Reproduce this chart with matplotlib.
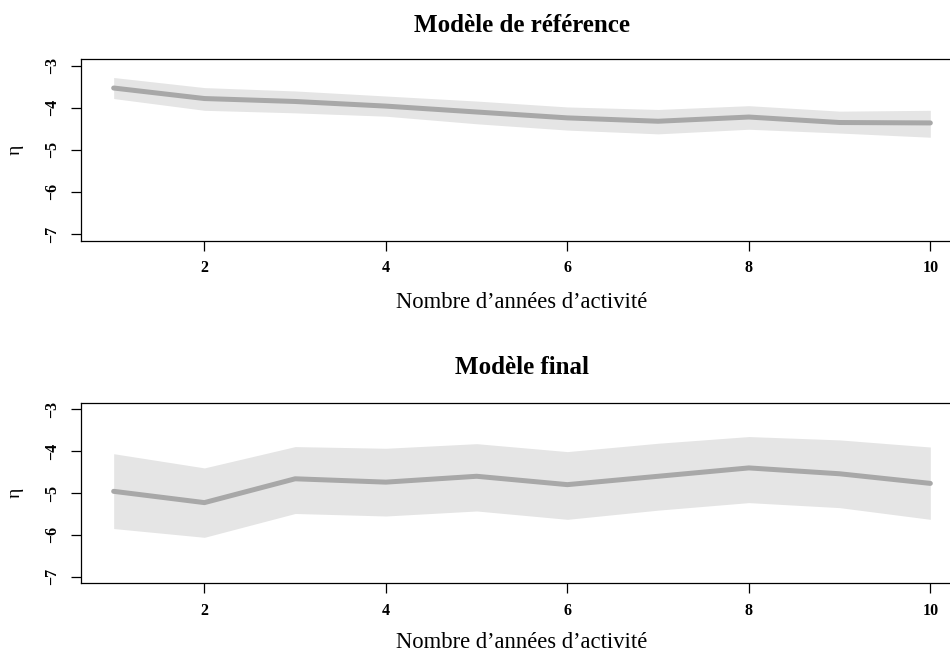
import matplotlib
matplotlib.use("Agg")
import matplotlib.pyplot as plt

# Years of activity
years = [1, 2, 3, 4, 5, 6, 7, 8, 9, 10]

# Reference model: estimate and confidence band
ref_eta = [-3.53, -3.78, -3.85, -3.96, -4.10, -4.24, -4.32, -4.22, -4.35, -4.36]
ref_low = [-3.78, -4.06, -4.12, -4.20, -4.38, -4.53, -4.62, -4.51, -4.60, -4.70]
ref_high = [-3.28, -3.52, -3.60, -3.72, -3.84, -3.98, -4.04, -3.95, -4.08, -4.06]

# Final model: estimate and confidence band
fin_eta = [-4.96, -5.23, -4.66, -4.74, -4.60, -4.80, -4.60, -4.40, -4.54, -4.77]
fin_low = [-5.85, -6.06, -5.49, -5.55, -5.43, -5.63, -5.41, -5.23, -5.35, -5.63]
fin_high = [-4.06, -4.40, -3.89, -3.93, -3.82, -4.01, -3.81, -3.65, -3.73, -3.90]

titles = ["Modèle de référence", "Modèle final"]
xlabel = "Nombre d\u2019années d\u2019activité"
xticks = [2, 4, 6, 8, 10]
yticks = [-7, -6, -5, -4, -3]

plt.rcParams["font.family"] = ["Liberation Serif", "DejaVu Serif"]

fig = plt.figure(figsize=(9.5, 6.51), dpi=100)
W, H = 950.0, 651.0

panels = [
    (ref_eta, ref_low, ref_high, 59.0, 240.7, 25.0, 303.0),
    (fin_eta, fin_low, fin_high, 402.7, 583.3, 367.0, 642.0),
]

for i, (eta, low, high, top, bot, ty, ly) in enumerate(panels):
    left, right = 81.0, 963.0
    ax = fig.add_axes([left / W, 1 - bot / H, (right - left) / W, (bot - top) / H])
    ax.fill_between(years, low, high, color="#e5e5e5", linewidth=0)
    ax.plot(years, eta, color="#a8a8a8", linewidth=3.6, solid_capstyle="round")
    ax.set_xlim(0.64, 10.36)
    ax.set_ylim(-7.16, -2.84)
    ax.set_xticks(xticks)
    ax.set_yticks(yticks)
    ax.tick_params(direction="out", length=7, width=0.9, colors="black",
                   labelsize=11.5)
    ax.tick_params(axis="x", pad=7)
    ax.tick_params(axis="y", pad=8)
    for lab in ax.get_xticklabels() + ax.get_yticklabels():
        lab.set_fontweight("bold")
    for lab in ax.get_yticklabels():
        lab.set_rotation(90)
        lab.set_va("center")
    for s in ax.spines.values():
        s.set_linewidth(0.9)
    ax.set_xlabel(xlabel, fontsize=16.3, va="center")
    ax.xaxis.set_label_coords(0.5, -(ly - bot) / (bot - top))
    ax.set_ylabel("η", fontsize=14, va="center")
    ax.yaxis.set_label_coords(-(81.0 - 15.0) / (right - left), 0.5)
    ax.set_title(titles[i], fontsize=18, fontweight="bold", va="center",
                 y=1 + (top - ty) / (bot - top), pad=0)

fig.savefig("out.png", dpi=100)
